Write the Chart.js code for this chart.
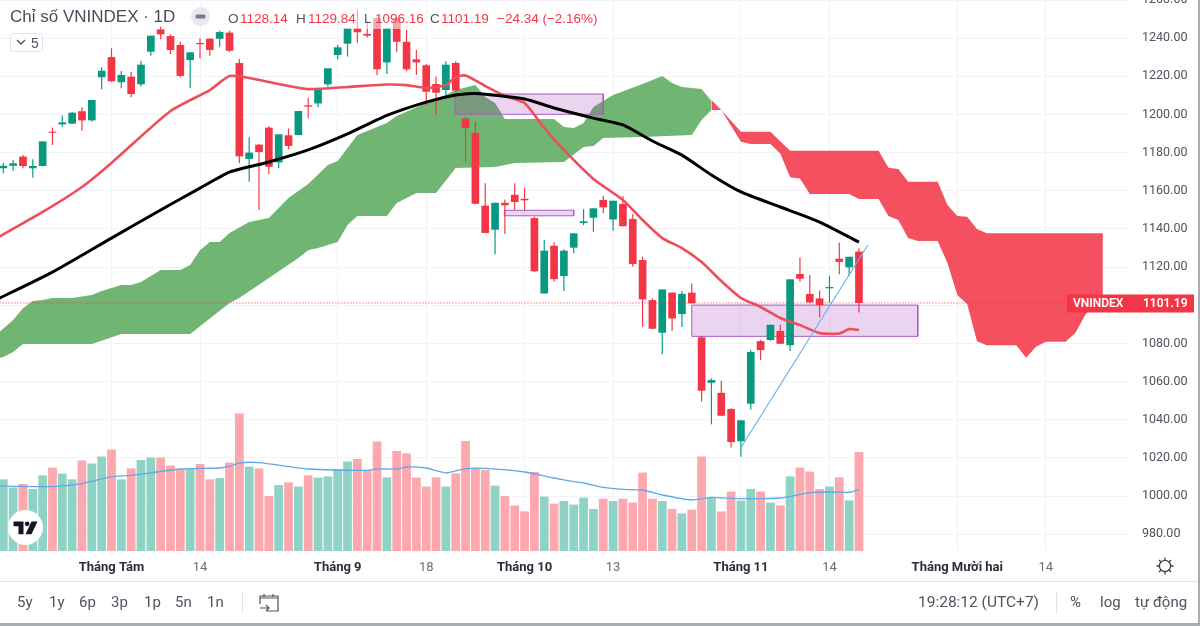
<!DOCTYPE html>
<html>
<head>
<meta charset="utf-8">
<title>Chỉ số VNINDEX</title>
<script src="https://cdn.jsdelivr.net/npm/chart.js@4/dist/chart.umd.min.js"></script>
<style>
  html, body { margin: 0; padding: 0; background: #fff; overflow: hidden; }
  #wrap { position: relative; width: 1200px; height: 626px; overflow: hidden; font-family: 'Liberation Sans', Arial, sans-serif; color: #50535e; }
  #chart { position: absolute; left: 0; top: 0; }
  .t { position: absolute; white-space: nowrap; line-height: 1; }
  .red { color: #f23645; }
  #legendBg { position: absolute; left: 225px; top: 8px; width: 380px; height: 21px; background: rgba(255,255,255,.55); }
  .btn { font-size: 15px; top: 595px; color: #50535e; font-family: Roboto, sans-serif; }
  .sep { position: absolute; width: 1px; background: #e0e3eb; top: 591px; height: 23px; }
</style>
</head>
<body>
<div id="wrap">
  <canvas id="chart" width="1200" height="626"></canvas>

  <div id="legendBg"></div>
  <div class="t" style="left:10px;top:8px;font-size:17px;color:#4a4d58">Chỉ số VNINDEX · 1D</div>
  <svg style="position:absolute;left:191px;top:7px" width="19" height="19"><circle cx="9.5" cy="9.5" r="9.5" fill="#e6e8ee"/><rect x="4.5" y="7.5" width="10" height="4" rx="1.5" fill="#787b86"/></svg>
  <div class="t" style="left:228px;top:12px;font-size:13.5px">O</div>
  <div class="t red" style="left:240px;top:12px;font-size:13.5px">1128.14</div>
  <div class="t" style="left:296px;top:12px;font-size:13.5px">H</div>
  <div class="t red" style="left:308px;top:12px;font-size:13.5px">1129.84</div>
  <div class="t" style="left:364px;top:12px;font-size:13.5px">L</div>
  <div class="t red" style="left:375px;top:12px;font-size:13.5px">1096.16</div>
  <div class="t" style="left:430px;top:12px;font-size:13.5px">C</div>
  <div class="t red" style="left:441px;top:12px;font-size:13.5px">1101.19</div>
  <div class="t red" style="left:497px;top:12px;font-size:13.5px">−24.34 (−2.16%)</div>

  <div style="position:absolute;left:10px;top:33px;width:33px;height:19px;border:1px solid #e0e3eb;border-radius:3px;box-sizing:border-box;background:#fff"></div>
  <svg style="position:absolute;left:16px;top:39px" width="10" height="7"><path d="M1 1l4 4 4-4" fill="none" stroke="#50535e" stroke-width="1.4"/></svg>
  <div class="t" style="left:31px;top:36px;font-size:14px">5</div>

  <svg style="position:absolute;left:8px;top:510px" width="35" height="35"><circle cx="17.5" cy="17.5" r="17.5" fill="#fff"/><g transform="translate(5.5,11.5) scale(.667)" fill="#131722"><path d="M0 0h15v19H7.5V7H0z"/><circle cx="20.5" cy="3.5" r="3.5"/><path d="M27 0h9L27 19h-9z"/></g></svg>

  <svg style="position:absolute;left:1155px;top:556px" width="20" height="20" fill="none" stroke="#3d4049" stroke-width="1.3"><circle cx="10" cy="10" r="5.6"/><path d="M10 1.5v3M10 15.5v3M1.5 10h3M15.5 10h3M4 4l2 2M14 14l2 2M4 16l2-2M14 6l2-2"/></svg>

  <div style="position:absolute;left:0;top:581px;width:1198px;height:1px;background:#e0e3eb"></div>
  <div class="t btn" style="left:17px">5y</div>
  <div class="t btn" style="left:49px">1y</div>
  <div class="t btn" style="left:79px">6p</div>
  <div class="t btn" style="left:111px">3p</div>
  <div class="t btn" style="left:144px">1p</div>
  <div class="t btn" style="left:175px">5n</div>
  <div class="t btn" style="left:207px">1n</div>
  <div class="sep" style="left:242px"></div>
  <svg style="position:absolute;left:259px;top:593px" width="20" height="19" fill="none" stroke="#50535e" stroke-width="1.2"><path d="M5 1v3M14 1v3M1 5h18M1 11V3h18v15H8M1 15h9M7 12l3 3-3 3"/></svg>
  <div class="t btn" style="left:918px;font-size:15.5px">19:28:12 (UTC+7)</div>
  <div class="sep" style="left:1056px"></div>
  <div class="t btn" style="left:1070px">%</div>
  <div class="t btn" style="left:1100px">log</div>
  <div class="t btn" style="left:1135px">tự động</div>

  <div style="position:absolute;left:0;top:623px;width:1200px;height:3px;background:#a9acb1"></div>
  <div style="position:absolute;left:1198px;top:0;width:2px;height:626px;background:#a9acb1"></div>
</div>

<script>
'use strict';

// ----- nến ngày -----
const opens = [1171.8, 1173.1, 1177.9, 1171.8, 1173, 1191, 1194.8, 1195.2, 1201.7, 1196.9,
  1219.5, 1230.1, 1216.9, 1219.8, 1215.8, 1232.9, 1244.6, 1241.1, 1236.4, 1228.5,
  1237.5, 1239.7, 1239.7, 1242.9, 1227, 1176.7, 1184.2, 1193.1, 1174.9, 1189.1,
  1189.2, 1204.8, 1205.8, 1215.8, 1231.2, 1237.1, 1245.2, 1242.2, 1250.4, 1227.3,
  1250.4, 1238.1, 1228.9, 1225.8, 1216, 1212.8, 1227, 1197.8, 1190.4, 1152.2,
  1139.6, 1153.7, 1157.9, 1155.8, 1145.7, 1106.2, 1131.2, 1115.3, 1130.2, 1143.1,
  1145.9, 1155.2, 1145, 1153.1, 1145.2, 1123.7, 1102.7, 1085.6, 1106.6, 1095.4,
  1106.6, 1083.2, 1059.4, 1054.1, 1045.6, 1028.7, 1048.4, 1081.2, 1081.8, 1086.5,
  1079.1, 1116.4, 1105.9, 1103.6, 1108.9, 1124.4, 1119.9, 1128.14];
const highs = [1174.7, 1176.1, 1178.7, 1176.5, 1185.9, 1193.1, 1199.4, 1201.3, 1203.8, 1207.6,
  1224.7, 1234.7, 1222.8, 1222.4, 1228.2, 1241.3, 1246, 1242, 1238.1, 1232.6,
  1239.9, 1239.9, 1243.9, 1243.9, 1229.1, 1188, 1184.5, 1194, 1189.6, 1192.7,
  1202, 1208.8, 1213.7, 1224.2, 1236.4, 1245.2, 1255.1, 1249.1, 1251, 1245.2,
  1251, 1244.3, 1233.8, 1226.5, 1219.8, 1227.9, 1227.9, 1198.8, 1196.2, 1163.9,
  1153.7, 1155.5, 1163.9, 1161.6, 1146.4, 1134.2, 1133, 1129.3, 1137.7, 1150.4,
  1150.8, 1157.3, 1154.8, 1157.3, 1147.8, 1125.4, 1103.6, 1108.3, 1106.8, 1107.5,
  1111.5, 1083.9, 1061.7, 1060.4, 1046, 1039.7, 1076.5, 1081.8, 1089.8, 1089.8,
  1113.6, 1125.1, 1115.8, 1107.8, 1115.5, 1132.8, 1125.4, 1129.84];
const lows = [1169.2, 1170.5, 1171.8, 1166.9, 1172.7, 1184, 1193.6, 1195, 1191.5, 1196.2,
  1213.2, 1217, 1213.7, 1209, 1214.6, 1230.8, 1239.4, 1231.7, 1219.5, 1213.7,
  1229.4, 1230.8, 1235.5, 1232.7, 1174.4, 1164.8, 1149.9, 1168.8, 1171.8, 1181.7,
  1189.2, 1198, 1203.8, 1214.6, 1228.9, 1230.3, 1237.6, 1240.4, 1220.5, 1221.2,
  1232.9, 1222.8, 1220.7, 1205, 1199.7, 1210.2, 1211.9, 1175.2, 1153, 1137.7,
  1126.7, 1137.3, 1149.9, 1149.9, 1117.4, 1106.2, 1112.5, 1107.5, 1127.2, 1142,
  1138.5, 1148.2, 1139.1, 1141.4, 1120.2, 1088.7, 1087.5, 1074.3, 1086.6, 1088.6,
  1101, 1049.6, 1037.6, 1042.1, 1025.5, 1020.6, 1045.4, 1071.3, 1081.4, 1079.8,
  1076, 1112.3, 1101, 1093.7, 1101.3, 1116.2, 1115.3, 1096.16];
const closes = [1173.1, 1174.4, 1173, 1173, 1185.9, 1190.4, 1195.9, 1200.9, 1196.9, 1207.6,
  1222.9, 1217.4, 1220.7, 1210.7, 1226.1, 1241.3, 1242, 1233.8, 1220.2, 1232.6,
  1236.8, 1233.8, 1243.2, 1233.4, 1178.1, 1180, 1180.3, 1172.6, 1189.6, 1183.5,
  1201.8, 1204.1, 1213.2, 1224.2, 1235.2, 1245.2, 1243.1, 1241.3, 1223.7, 1245.2,
  1238.1, 1223.7, 1227.3, 1211.9, 1211.4, 1226.1, 1212.5, 1192.9, 1153.2, 1137.9,
  1153.7, 1152.4, 1154.1, 1155, 1117.8, 1128.6, 1113.7, 1128.6, 1137.7, 1144,
  1150.8, 1151.3, 1154.8, 1141.4, 1121.6, 1103.1, 1087.7, 1108.3, 1093.1, 1106,
  1101, 1055.2, 1060.8, 1042.1, 1028.3, 1039.7, 1075.5, 1076.5, 1089.8, 1079.8,
  1113.6, 1113.9, 1101.5, 1100.1, 1109.6, 1122.7, 1125.4, 1101.19];
const volumes = [358, 318, 335, 310, 378, 417, 387, 358, 452, 438,
  473, 508, 358, 413, 455, 468, 468, 427, 410, 410,
  435, 358, 365, 443, 688, 422, 413, 275, 330, 343,
  322, 378, 367, 373, 410, 448, 460, 405, 547, 368,
  500, 487, 367, 322, 368, 322, 388, 550, 415, 405,
  327, 275, 228, 198, 395, 272, 237, 250, 232, 267,
  210, 262, 250, 262, 242, 392, 262, 250, 210, 188,
  207, 473, 267, 198, 297, 252, 310, 297, 242, 228,
  373, 417, 397, 310, 322, 368, 253, 495];

// ----- đường trung bình (chỉ số nến, giá trị) -----
const redMaX = [-1, 4, 8, 11, 17, 21, 23, 25, 28, 31, 35, 39, 41, 43, 45, 46, 47, 49, 51, 53, 55, 57, 60, 63, 65, 67, 69, 71, 73, 75, 77, 79, 81, 83, 85, 86, 87];
const redMaY = [1134.2, 1148.9, 1162, 1174.6, 1201.8, 1212.8, 1220.2, 1219.1, 1216, 1213.3, 1214.4, 1215.7, 1215.4, 1213.9, 1215.4, 1219.6, 1220.4, 1214.9, 1209.7, 1206, 1192.9, 1181.4, 1166.2, 1155.2, 1144.7, 1135.2, 1130, 1122.7, 1112.7, 1103.8, 1099.1, 1093.3, 1089.6, 1085.4, 1085.2, 1087.5, 1087];
const blackMaX = [-1, 5, 11, 16, 20, 23, 27, 31, 35, 39, 43, 46, 48, 53, 56, 60, 63, 66, 69, 72, 75, 79, 83, 87];
const blackMaY = [1102.2, 1117.4, 1135.2, 1149.9, 1161.4, 1169.8, 1175.1, 1181.4, 1189.8, 1199.5, 1206.5, 1210.2, 1211, 1208.1, 1203.4, 1198.1, 1194.5, 1186.1, 1178.7, 1168.3, 1159.4, 1151.5, 1143.6, 1133.1];
const volMaX = [-1, 5, 8, 11, 13, 18, 22, 23, 24, 26, 31, 37, 38, 40, 41, 43, 44, 45, 47, 49, 53, 56, 58, 59, 61, 63, 65, 67, 70, 72, 75, 79, 82, 84, 86, 87];
const volMaY = [325, 322, 337, 372, 378, 410, 415, 423, 440, 442, 410, 403, 410, 410, 420, 415, 402, 390, 412, 413, 395, 365, 347, 340, 318, 308, 305, 280, 255, 268, 262, 265, 292, 295, 293, 307];

// ----- mây Ichimoku -----
const greenTopX = [-1, 1, 2, 3, 4, 5, 7, 9, 10, 12, 13, 14, 16, 18, 19, 20, 21, 22, 23, 25, 27, 29, 31, 33, 34, 36, 39, 40, 43, 45, 46, 48, 49, 50, 51, 56, 57, 58, 59, 60, 62, 65, 67, 68, 69, 71, 72];
const greenTopY = [1083.3, 1092.3, 1098.5, 1102.2, 1102.7, 1103.8, 1103.8, 1105.4, 1107.5, 1110.6, 1110.6, 1112.2, 1118.5, 1118.5, 1121.1, 1128.9, 1133.1, 1133.1, 1137.9, 1143.6, 1145.7, 1156.2, 1163.5, 1173.5, 1175.6, 1189.2, 1195.5, 1199.2, 1206, 1210.2, 1212.8, 1215.4, 1209.2, 1206, 1197.6, 1197.6, 1193.4, 1192.9, 1195.5, 1203.9, 1210.2, 1216, 1220.2, 1216.5, 1214.4, 1213.3, 1207.1];
const greenBotX = [-1, 0, 1, 2, 9, 12, 19, 23, 24, 30, 31, 32, 34, 35, 36, 39, 40, 42, 44, 46, 50, 52, 57, 59, 60, 61, 65, 70, 71, 72];
const greenBotY = [1071.8, 1072.9, 1075.5, 1079.7, 1079.7, 1084.9, 1084.9, 1101.2, 1103.8, 1124.8, 1128.9, 1130, 1133.1, 1142.1, 1146.8, 1146.8, 1153.6, 1158.8, 1158.8, 1171.9, 1172.5, 1174.6, 1175.1, 1182.9, 1183.5, 1187.7, 1188.2, 1189.2, 1197.1, 1202.3];
const redTopX = [72, 73, 75, 78, 80, 89, 90, 91, 92, 95, 96, 97, 98, 99, 100, 111.8];
const redTopY = [1207.6, 1202.3, 1191, 1191, 1181, 1181, 1172.1, 1171.4, 1164.8, 1164.8, 1152.5, 1146.8, 1146.4, 1140, 1137.7, 1137.7];
const redBotX = [72, 73, 75, 76, 78, 79, 80, 81, 82, 86, 87, 89, 90, 91, 92, 93, 95, 96, 97, 98, 99, 100, 103, 104, 105, 106, 108, 109, 110, 111, 111.8];
const redBotY = [1202.3, 1202.3, 1185.7, 1184.5, 1184.5, 1179.6, 1167.1, 1166.5, 1158.3, 1158.3, 1155.7, 1155.7, 1146.8, 1144.7, 1135.2, 1133.7, 1133.7, 1122.1, 1105.4, 1100.6, 1081.2, 1079.1, 1079.1, 1072.5, 1078.3, 1080.9, 1080.9, 1085.4, 1094.9, 1101.2, 1105.4];

// ----- vùng và đường vẽ tay -----
const zones = [
  { from: 45.93, to: 61, low: 1200.1, high: 1210.7 },
  { from: 50.94, to: 58, low: 1146.9, high: 1149.8 },
  { from: 70, to: 92.98, low: 1083.7, high: 1100.1 }
];
const trendX = [74.98, 87.9];
const trendY = [1025.2, 1131.6];

// ----- trục -----
const priceTicks = [1260, 1240, 1220, 1200, 1180, 1160, 1140, 1120, 1100, 1080, 1060, 1040, 1020, 1000, 980];
const timeTicks = [11, 20, 34, 43, 53, 62, 75, 84, 97, 106];
const timeLabels = ['Tháng Tám', '14', 'Tháng 9', '18', 'Tháng 10', '13', 'Tháng 11', '14', 'Tháng Mười hai', '14'];

const UP = '#089981', DOWN = '#f23645';
const isUp = i => closes[i] >= opens[i];
const pts = (xs, ys) => xs.map((x, i) => ({ x, y: ys[i] }));
const lastClose = closes[closes.length - 1];

const lineDs = (xs, ys, color, width, order, extra) => Object.assign({
  type: 'line', data: pts(xs, ys), borderColor: color, borderWidth: width,
  pointRadius: 0, tension: 0, fill: false, order, yAxisID: 'y'
}, extra);

const cloudDs = (xs, ys, color, fill) => lineDs(xs, ys, color, 0, 40, { fill, backgroundColor: color });

const zoneDs = z => lineDs(
  [z.from, z.to, z.to, z.from, z.from], [z.high, z.high, z.low, z.low, z.high],
  '#ab5cc4', 1, 30, { fill: 'shape', backgroundColor: 'rgba(156,39,176,0.2)' }
);

const datasets = [
  {
    type: 'bar', label: 'Volume', yAxisID: 'vol', order: 50, grouped: false, categoryPercentage: 1, barPercentage: 0.89,
    data: volumes.map((v, i) => ({ x: i, y: v })),
    backgroundColor: volumes.map((v, i) => isUp(i) ? '#8ed3c5' : '#fca8ae')
  },
  lineDs(volMaX, volMaY, '#5ea9e6', 1.3, 49, { yAxisID: 'vol', tension: 0.2 }),
  cloudDs(greenTopX, greenTopY, '#70b672', '+1'),
  cloudDs(greenBotX, greenBotY, '#70b672', false),
  cloudDs(redTopX, redTopY, '#f4505f', '+1'),
  cloudDs(redBotX, redBotY, '#f4505f', false),
  ...zones.map(zoneDs),
  {
    type: 'bar', label: 'Wick', order: 20, grouped: false, categoryPercentage: 1, barPercentage: 0.12, maxBarThickness: 1.2,
    data: highs.map((h, i) => ({ x: i, y: [lows[i], h] })),
    backgroundColor: highs.map((h, i) => isUp(i) ? UP : DOWN)
  },
  {
    type: 'bar', label: 'Body', order: 19, grouped: false, categoryPercentage: 1, barPercentage: 0.78,
    data: opens.map((o, i) => ({ x: i, y: [Math.min(o, closes[i]), Math.max(o, closes[i])] })),
    backgroundColor: opens.map((o, i) => isUp(i) ? UP : DOWN)
  },
  lineDs(redMaX, redMaY, '#ee4d5c', 2.6, 10, { tension: 0.2 }),
  lineDs(blackMaX, blackMaY, '#000000', 3, 9, { tension: 0.2 }),
  lineDs(trendX, trendY, '#6cb2ec', 1.2, 5),
  lineDs([-1, 115], [lastClose, lastClose], DOWN, 1, 4, { borderDash: [1, 2] })
];

// nhãn giá cuối trên trục phải
const priceTag = {
  id: 'priceTag',
  afterDraw(chart) {
    const ctx = chart.ctx;
    const y = chart.scales.y.getPixelForValue(lastClose);
    ctx.save();
    ctx.fillStyle = DOWN;
    ctx.fillRect(1067, y - 8.5, 127, 18);
    ctx.fillStyle = '#fff';
    ctx.font = "600 12px Roboto, sans-serif";
    ctx.textBaseline = 'middle';
    ctx.fillText('VNINDEX', 1073, y + 1.5);
    ctx.fillText(lastClose.toFixed(2), 1143, y + 1.5);
    ctx.restore();
  }
};

new Chart(document.getElementById('chart'), {
  data: { datasets },
  plugins: [priceTag],
  options: {
    responsive: false,
    animation: false,
    events: [],
    layout: { padding: 0 },
    plugins: { legend: { display: false }, tooltip: { enabled: false } },
    scales: {
      x: {
        type: 'linear', min: -0.3355, max: 114.66, offset: false,
        afterBuildTicks: s => { s.ticks = timeTicks.map(v => ({ value: v })); },
        afterFit: s => { s.height = 75; s.paddingLeft = 0; s.paddingRight = 0; },
        grid: { color: '#f0f3fa', drawTicks: false, offset: false },
        border: { display: false },
        ticks: {
          autoSkip: false, maxRotation: 0, padding: 9,
          callback: v => timeLabels[timeTicks.indexOf(v)],
          color: ctx => timeLabels[ctx.index] && timeLabels[ctx.index].startsWith('Th') ? '#2a2e39' : '#6a6d78',
          font: ctx => ({
            family: 'Roboto, sans-serif', size: 13,
            weight: timeLabels[ctx.index] && timeLabels[ctx.index].startsWith('Th') ? 'bold' : 'normal'
          })
        }
      },
      y: {
        position: 'right', min: 971.2, max: 1260,
        afterBuildTicks: s => { s.ticks = priceTicks.map(v => ({ value: v })); },
        afterFit: s => { s.width = 69; s.paddingTop = 0; s.paddingBottom = 0; },
        grid: { color: '#f0f3fa', drawTicks: false },
        border: { display: false },
        ticks: {
          autoSkip: false, padding: 11, color: '#50535e',
          font: { family: 'Roboto, sans-serif', size: 12.5 },
          callback: v => v.toFixed(2)
        }
      },
      vol: { display: false, min: 0, max: 2755 }
    }
  }
});
</script>
</body>
</html>
